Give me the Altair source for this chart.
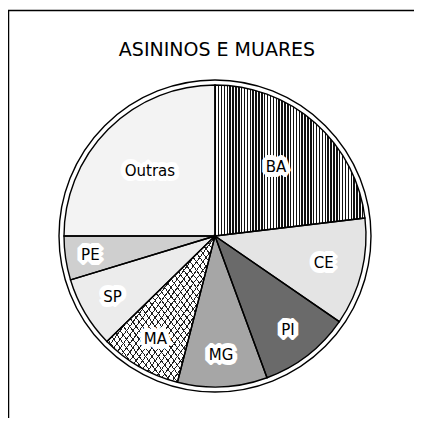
import altair as alt
import pandas as pd
import math

# ---- data (share of the pie, %) ----
categories = ["BA", "CE", "PI", "MG", "MA", "SP", "PE", "Outras"]
values = [23.1, 11.5, 9.8, 9.6, 8.7, 7.6, 4.7, 25.0]
order_idx = [0, 1, 2, 3, 4, 5, 6, 7]
title_text = "ASININOS E MUARES"

df = pd.DataFrame({"cat": categories, "value": values, "idx": order_idx})

# ---- styling ----
CX, CY = 207, 228
R = 151
base_colors = ["#ffffff", "#e4e4e4", "#6a6a6a", "#a6a6a6", "#ffffff", "#ececec", "#cfcfcf", "#f3f3f3"]


def stripes(n, x1, y1, x2, y2, ink, gap, frac=0.45):
    stops = []
    for i in range(n):
        a = i / n
        b = (i + frac) / n
        c = (i + 1) / n
        stops += [
            {"offset": a, "color": ink},
            {"offset": b, "color": ink},
            {"offset": b, "color": gap},
            {"offset": c, "color": gap},
        ]
    return {"gradient": "linear", "x1": x1, "y1": y1, "x2": x2, "y2": y2, "stops": stops}


grad_ba = stripes(52, 0, 0, 1, 0, "#111111", "#ffffff", 0.5)
grad_ma1 = stripes(34, 0, 0, 1, 1, "#222222", "#ffffff", 0.18)
grad_ma2 = stripes(34, 0, 1, 1, 0, "#222222", "rgba(255,255,255,0)", 0.18)

common = dict(
    theta=alt.Theta("value:Q", stack=True),
    order=alt.Order("idx:Q"),
    x=alt.value(CX),
    y=alt.value(CY),
)

base = alt.Chart(df).mark_arc(radius=R, strokeWidth=0).encode(
    fill=alt.Fill("cat:N", scale=alt.Scale(domain=categories, range=base_colors), legend=None),
    **common,
)

pattern1 = alt.Chart(df).mark_arc(radius=R, strokeWidth=0).encode(
    fill={
        "condition": [
            {"test": "datum.cat === 'BA'", "value": grad_ba},
            {"test": "datum.cat === 'MA'", "value": grad_ma1},
        ],
        "value": "transparent",
    },
    **common,
)

pattern2 = alt.Chart(df).mark_arc(radius=R, strokeWidth=0).encode(
    fill={
        "condition": [{"test": "datum.cat === 'MA'", "value": grad_ma2}],
        "value": "transparent",
    },
    **common,
)

outline = alt.Chart(df).mark_arc(radius=R, filled=False, stroke="black", strokeWidth=1.4).encode(**common)

ring = alt.Chart(df).mark_arc(
    radius=R + 5, theta=0, theta2=2 * math.pi, filled=False, stroke="black", strokeWidth=1.4
).encode(x=alt.value(CX), y=alt.value(CY)).transform_filter("datum.idx === 0")


def label_layer(**style):
    return alt.Chart(df).transform_joinaggregate(
        total="sum(value)"
    ).transform_window(
        cum="sum(value)", sort=[alt.SortField("idx")], frame=[None, 0]
    ).transform_calculate(
        mid="(datum.cum - datum.value / 2) / datum.total * 2 * PI",
        lr="datum.value > 20 ? 92 : (datum.value < 6 ? 126 : (datum.value > 11 ? 112 : 119))",
    ).mark_text(
        font="DejaVu Sans", fontSize=15, align="center", baseline="middle", **style
    ).encode(
        theta=alt.Theta("mid:Q", scale=None, stack=False),
        radius=alt.Radius("lr:Q", scale=None),
        text=alt.Text("cat:N"),
        x=alt.value(CX),
        y=alt.value(CY),
    )


halo = label_layer(stroke="white", strokeWidth=10, fill="white", strokeJoin="bevel")
labels = label_layer(fill="black")

title = alt.Chart(df).mark_text(
    font="DejaVu Sans", fontSize=19, fill="black", align="center", baseline="middle"
).encode(
    x=alt.value(209), y=alt.value(42), text=alt.value(title_text)
).transform_filter("datum.idx === 0")

frame_top = alt.Chart(df).mark_rule(stroke="black", strokeWidth=1.5).encode(
    x=alt.value(0), x2=alt.value(406), y=alt.value(2.5)
).transform_filter("datum.idx === 0")

frame_left = alt.Chart(df).mark_rule(stroke="black", strokeWidth=1.5).encode(
    x=alt.value(0.5), y=alt.value(2), y2=alt.value(410)
).transform_filter("datum.idx === 0")

chart = alt.layer(
    base, pattern1, pattern2, outline, ring, halo, labels, title, frame_top, frame_left
).resolve_scale(theta="independent").properties(
    width=406, height=410, padding=0, autosize="none"
).configure_view(stroke=None)

chart.save("out.html", embed_options={"renderer": "svg", "actions": False})
